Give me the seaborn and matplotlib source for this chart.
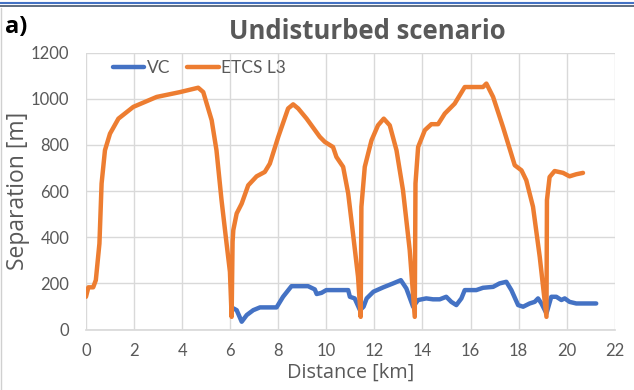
import matplotlib
matplotlib.use("Agg")
import matplotlib.pyplot as plt
from matplotlib.lines import Line2D
import seaborn as sns
import pandas as pd

# ---- data ----
etcs_km = [0, 0.1, 0.3, 0.41, 0.56, 0.65, 0.79, 1.0, 1.35, 1.97, 2.94, 3.91, 4.67, 4.88,
           5.23, 5.43, 5.64, 5.85, 5.99, 6.06, 6.1, 6.13, 6.27, 6.48, 6.75, 7.1, 7.44, 7.65,
           8.0, 8.41, 8.62, 8.83, 9.18, 9.73, 9.94, 10.28, 10.42, 10.7, 10.91, 11.11, 11.32,
           11.43, 11.46, 11.6, 11.88, 12.15, 12.39, 12.64, 12.92, 13.19, 13.47, 13.68, 13.71,
           13.82, 14.1, 14.37, 14.65, 14.93, 15.34, 15.76, 16.52, 16.66, 16.94, 17.35, 17.84,
           18.12, 18.32, 18.6, 18.88, 19.16, 19.18, 19.29, 19.5, 19.85, 20.12, 20.4, 20.68]
etcs_m = [142, 183, 183, 214, 373, 633, 777, 849, 914, 965, 1008, 1029, 1048, 1029,
          907, 777, 561, 373, 250, 55, 380, 431, 503, 546, 625, 664, 683, 719,
          835, 958, 976, 958, 914, 835, 813, 791, 748, 705, 590, 416, 229,
          55, 532, 705, 820, 885, 914, 885, 777, 604, 344, 55, 633,
          791, 864, 890, 890, 936, 979, 1051, 1051, 1066, 1008, 878, 712,
          690, 647, 532, 315, 55, 561, 661, 687, 679, 664, 673, 679]

vc_km = [6.13, 6.27, 6.48, 6.69, 6.96, 7.24, 7.93, 8.2, 8.55, 9.24, 9.52, 9.6, 9.8, 10.0,
         10.91, 10.98, 11.18, 11.4, 11.55, 11.68, 11.96, 12.37, 12.78, 13.1, 13.33, 13.61,
         13.82, 14.16, 14.44, 14.72, 14.99, 15.2, 15.41, 15.62, 15.76, 16.24, 16.52, 16.94,
         17.21, 17.49, 17.7, 17.98, 18.19, 18.46, 18.67, 18.81, 18.95, 19.16, 19.36, 19.57,
         19.78, 19.92, 20.12, 20.4, 21.23]
vc_m = [92, 84, 34, 63, 84, 96, 96, 142, 188, 188, 174, 154, 159, 171,
        171, 142, 135, 84, 99, 135, 164, 183, 200, 214, 178, 99,
        128, 135, 131, 131, 142, 120, 106, 135, 171, 171, 181, 185,
        200, 207, 171, 106, 99, 113, 120, 135, 113, 70, 142, 142,
        128, 135, 120, 113, 113]

series_names = ["VC", "ETCS L3"]
x_ticks = list(range(0, 23, 2))
y_ticks = list(range(0, 1201, 200))

df = pd.concat([
    pd.DataFrame({"km": vc_km, "m": vc_m, "series": series_names[0]}),
    pd.DataFrame({"km": etcs_km, "m": etcs_m, "series": series_names[1]}),
], ignore_index=True)

sns.set_theme(style="white")
plt.rcParams["font.family"] = ["Lato", "DejaVu Sans"]

fig = plt.figure(figsize=(6.34, 3.90), dpi=100)
ax = fig.add_axes([0.1356, 0.155, 0.834, 0.71])

sns.lineplot(data=df, x="km", y="m", hue="series", hue_order=series_names,
             palette=["#4472C4", "#ED7D31"], sort=False, estimator=None,
             linewidth=3.2, ax=ax)

ax.set_xlim(0, 22)
ax.set_ylim(0, 1200)
ax.set_xticks(x_ticks)
ax.set_yticks(y_ticks)
ax.grid(True, color="#D9D9D9", linewidth=1.0)
ax.set_axisbelow(True)
for s in ["top", "right", "left"]:
    ax.spines[s].set_visible(False)
ax.spines["bottom"].set_color("#D9D9D9")
ax.tick_params(axis="both", length=0, labelsize=12, labelcolor="#595959")
ax.tick_params(axis="x", pad=10)
ax.tick_params(axis="y", pad=12)

ax.set_xlabel("Distance [km]", fontsize=14.3, color="#595959",
              family=["Open Sans", "DejaVu Sans"])
ax.set_ylabel("Separation [m]", fontsize=16.5, color="#595959",
              family=["Open Sans", "DejaVu Sans"])
ax.xaxis.set_label_coords(0.5, -0.121)
ax.yaxis.set_label_coords(-0.106, 0.5)

leg = ax.legend(loc="upper left", ncol=2, frameon=False, fontsize=12.5,
                bbox_to_anchor=(0.022, 1.03), handlelength=1.8, columnspacing=1.0,
                handletextpad=0.12, labelcolor="#595959")
for h in leg.get_lines():
    h.set_linewidth(3.2)

fig.text(0.579, 0.918, "Undisturbed scenario", ha="center", va="center",
         fontsize=18.5, fontweight="bold", color="#595959",
         family=["Open Sans", "DejaVu Sans"])
fig.text(0.008, 0.93, "a)", ha="left", va="center", fontsize=17,
         fontweight="bold", color="black", family=["Open Sans", "DejaVu Sans"])

# top border lines and left frame edge
fig.add_artist(Line2D([0, 1], [0.992, 0.992], color="#4472C4", linewidth=1.5,
                      transform=fig.transFigure))
fig.add_artist(Line2D([0, 1], [0.984, 0.984], color="#44546A", linewidth=1.2,
                      transform=fig.transFigure))
fig.add_artist(Line2D([0.002, 0.002], [0, 0.98], color="#D0D0D0", linewidth=1.0,
                      transform=fig.transFigure))

fig.savefig("out.png", dpi=100)
